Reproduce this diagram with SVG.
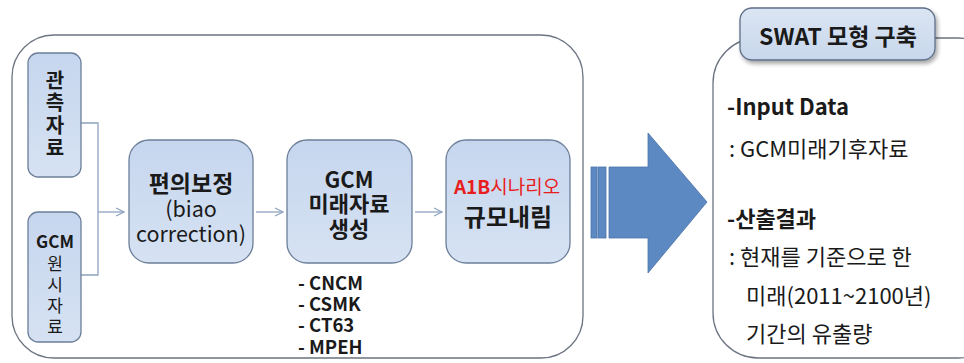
<svg xmlns="http://www.w3.org/2000/svg" width="964" height="363" viewBox="0 0 964 363">
<defs>
<linearGradient id="nodeGrad" x1="0" y1="0" x2="0" y2="1">
<stop offset="0" stop-color="#c6d6ee"/>
<stop offset="1" stop-color="#d6e2f3"/>
</linearGradient>
<linearGradient id="tabGrad" x1="0" y1="0" x2="0" y2="1">
<stop offset="0" stop-color="#dbe5f3"/>
<stop offset="1" stop-color="#c8d7ec"/>
</linearGradient>
<filter id="shadow" x="-10%" y="-20%" width="130%" height="160%">
<feGaussianBlur in="SourceAlpha" stdDeviation="2"/>
<feOffset dx="2" dy="3"/>
<feComponentTransfer><feFuncA type="linear" slope="0.35"/></feComponentTransfer>
<feMerge><feMergeNode/><feMergeNode in="SourceGraphic"/></feMerge>
</filter>
<marker id="arr" viewBox="0 0 10 10" refX="9" refY="5" markerWidth="10" markerHeight="10" markerUnits="userSpaceOnUse" orient="auto">
<path d="M1,1 L9,5 L1,9" fill="none" stroke="#8fa3c0" stroke-width="1.2"/>
</marker>
</defs>
<style>
.frame{fill:#ffffff;stroke:#6b7480;stroke-width:1.3}
.node{fill:url(#nodeGrad);stroke:#6c7f99;stroke-width:1.3}
.t{font-family:"Noto Sans CJK KR","Noto Sans",sans-serif;fill:#1a1a1a;text-anchor:middle;dominant-baseline:central}
.b{font-weight:bold}
.l{text-anchor:start}
.conn{fill:none;stroke:#8fa3c0;stroke-width:1.3}
</style>
<rect width="964" height="363" fill="#ffffff"/>

<g id="left-frame">
<rect class="frame" x="12" y="35" width="571" height="323" rx="42" ry="42"/>
</g>

<g id="right-frame">
<rect class="frame" x="713" y="38" width="290" height="320" rx="45" ry="45"/>
</g>

<g id="connectors">
<polyline class="conn" points="81,123 98,123 98,275 81,275"/>
<line class="conn" x1="98" y1="212" x2="124" y2="212" marker-end="url(#arr)"/>
<line class="conn" x1="256" y1="212" x2="283" y2="212" marker-end="url(#arr)"/>
<line class="conn" x1="415" y1="212" x2="442" y2="212" marker-end="url(#arr)"/>
</g>

<g id="node-observed">
<rect class="node" x="28" y="53" width="53" height="124" rx="10"/>
<text class="t b" font-size="20"><tspan x="55" y="79">관</tspan><tspan x="55" y="101">측</tspan><tspan x="55" y="124">자</tspan><tspan x="55" y="146">료</tspan></text>
</g>

<g id="node-gcm-raw">
<rect class="node" x="28" y="212" width="53" height="130" rx="10"/>
<text class="t" font-size="17"><tspan x="55" y="240" font-weight="bold">GCM</tspan><tspan x="55" y="262">원</tspan><tspan x="55" y="283">시</tspan><tspan x="55" y="304">자</tspan><tspan x="55" y="325">료</tspan></text>
</g>

<g id="node-bias">
<rect class="node" x="129" y="140" width="124" height="123" rx="20"/>
<text class="t" font-size="21.5"><tspan x="191" y="182" font-weight="bold" font-size="23">편의보정</tspan><tspan x="191" y="207">(biao</tspan><tspan x="191" y="232">correction)</tspan></text>
</g>

<g id="node-gcm-future">
<rect class="node" x="287" y="140" width="125" height="123" rx="20"/>
<text class="t b" font-size="22"><tspan x="349" y="178">GCM</tspan><tspan x="349" y="202">미래자료</tspan><tspan x="349" y="227">생성</tspan></text>
</g>

<g id="node-downscale">
<rect class="node" x="446" y="140" width="124" height="123" rx="20"/>
<text class="t" x="507" y="185" font-size="19" style="fill:#e81e1e"><tspan font-weight="bold">A1B</tspan>시나리오</text>
<text class="t b" x="508" y="215" font-size="24">규모내림</text>
</g>

<g id="gcm-list">
<text class="t b l" font-size="18.5"><tspan x="298" y="282">- CNCM</tspan><tspan x="298" y="303">- CSMK</tspan><tspan x="298" y="324">- CT63</tspan><tspan x="298" y="346">- MPEH</tspan></text>
</g>

<g id="big-arrow">
<rect x="591" y="167" width="6" height="71" fill="#5d89c3" stroke="#4b73a8" stroke-width="0.8"/>
<rect x="598" y="167" width="8" height="71" fill="#5d89c3" stroke="#4b73a8" stroke-width="0.8"/>
<polygon points="609,167 648,167 648,133 707,202 648,273 648,238 609,238" fill="#5d89c3" stroke="#4b73a8" stroke-width="0.8"/>
</g>

<g id="swat-tab">
<rect x="740" y="8" width="195" height="52" rx="12" fill="url(#tabGrad)" stroke="#5d6f88" stroke-width="1.3" filter="url(#shadow)"/>
<text class="t b" x="838" y="35" font-size="23">SWAT 모형 구축</text>
</g>

<g id="swat-content">
<text class="t b l" x="727" y="105" font-size="22">-Input Data</text>
<text class="t l" x="729" y="147" font-size="22">: GCM미래기후자료</text>
<text class="t b l" x="727" y="217" font-size="22">-산출결과</text>
<text class="t l" font-size="22"><tspan x="729" y="255">: 현재를 기준으로 한</tspan><tspan x="746" y="294">미래(2011~2100년)</tspan><tspan x="746" y="332">기간의 유출량</tspan></text>
</g>
</svg>
